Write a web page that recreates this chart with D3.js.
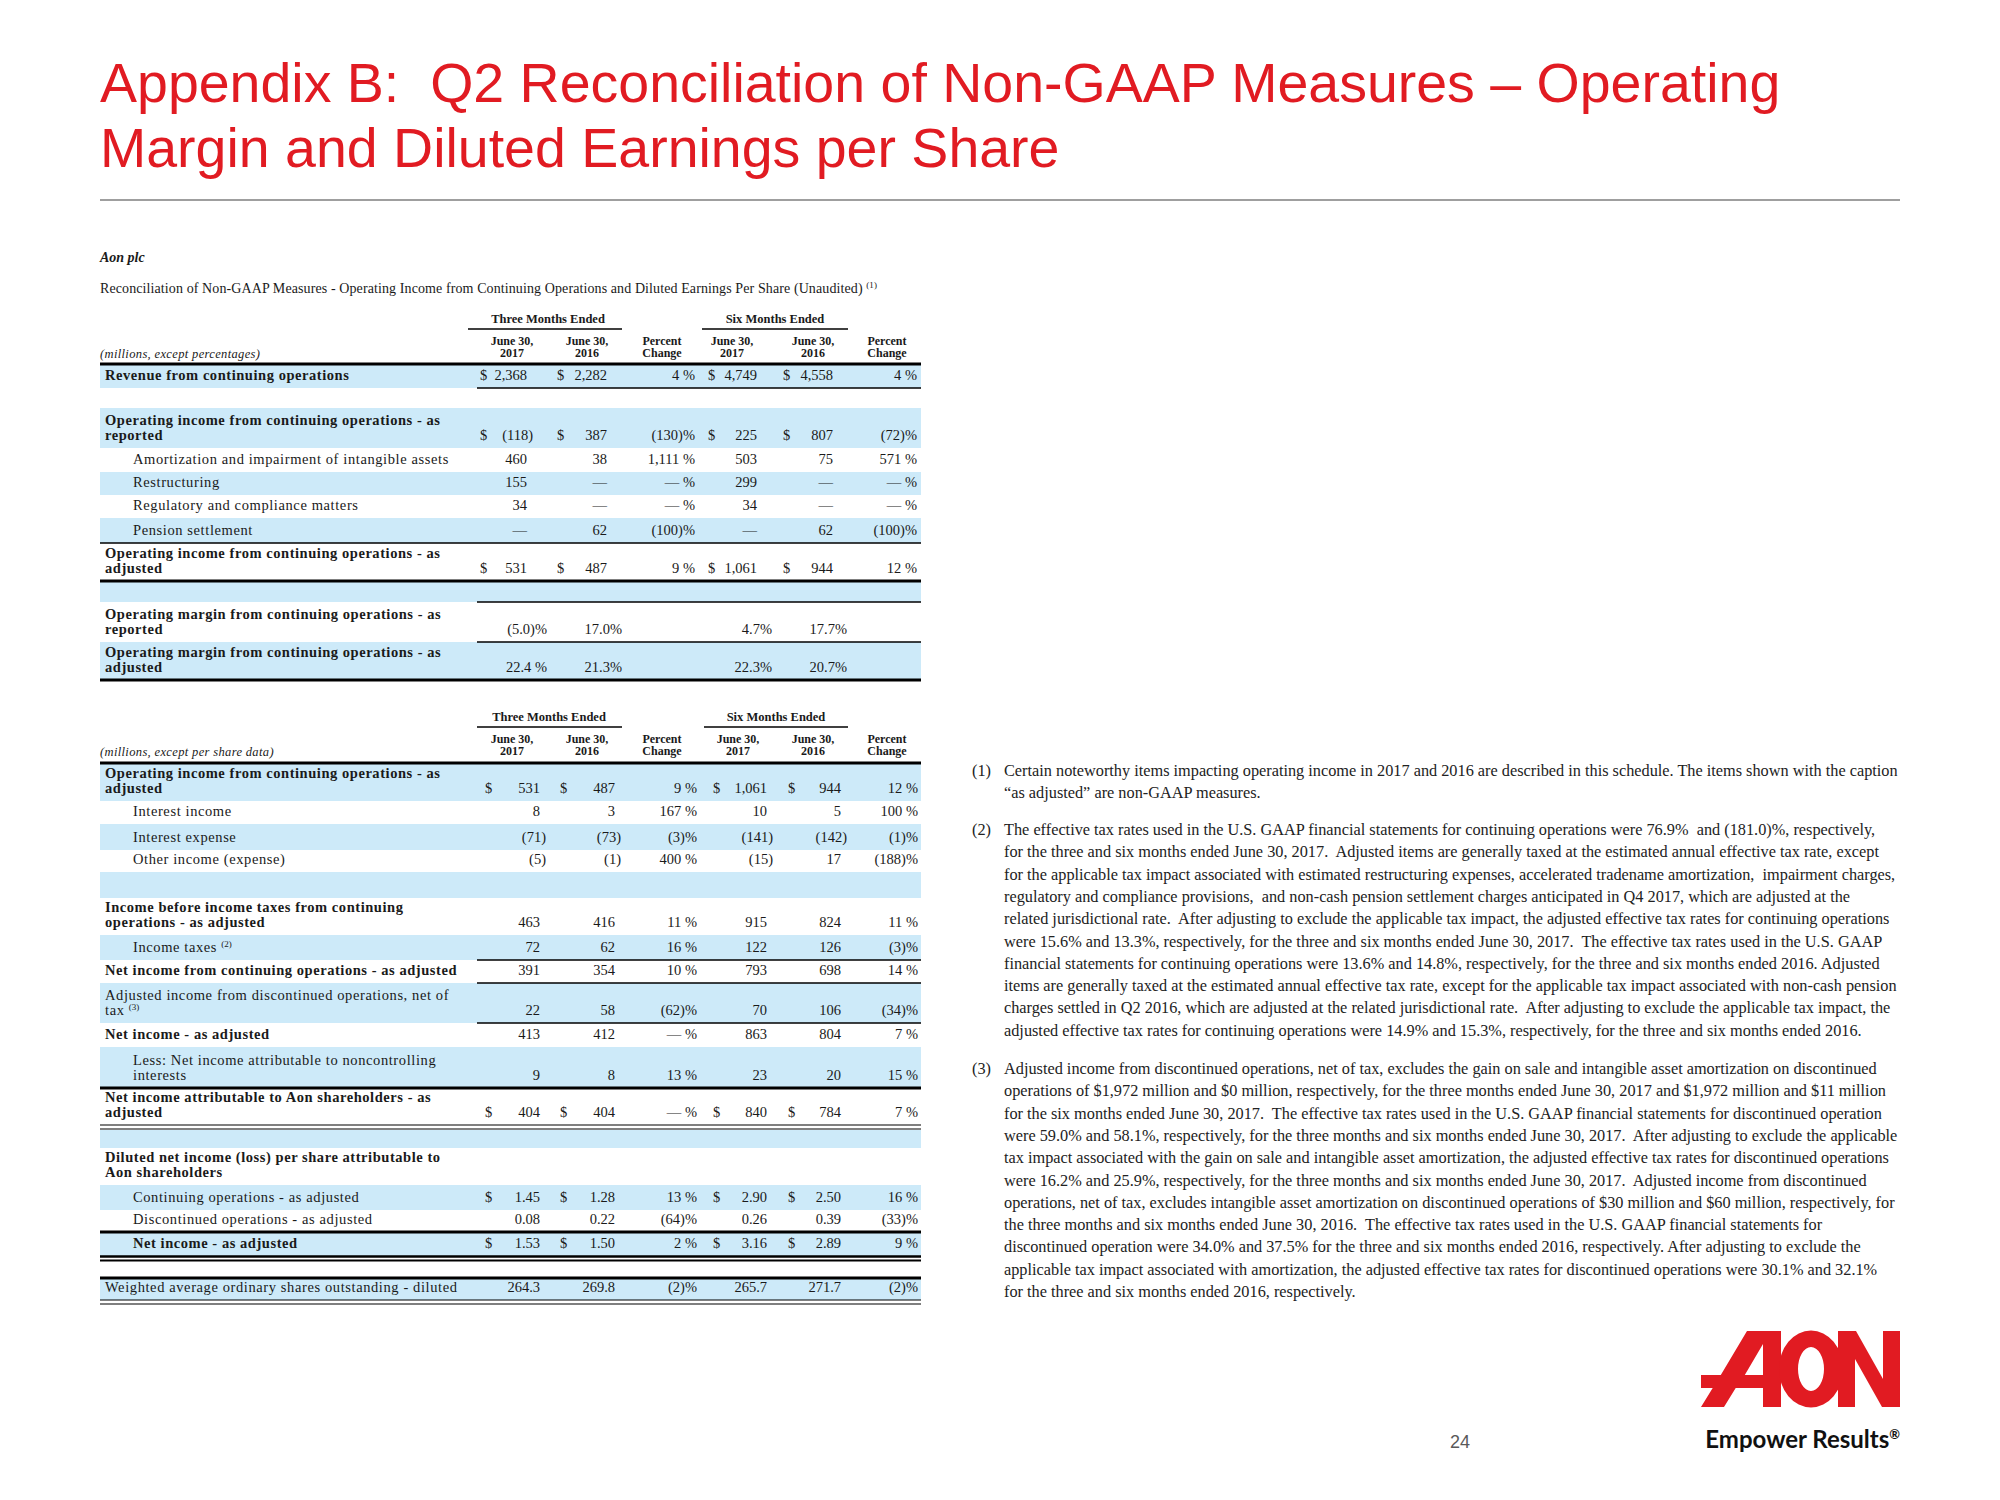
<!DOCTYPE html>
<html>
<head>
<meta charset="utf-8">
<script src="https://cdn.jsdelivr.net/npm/d3@7"></script>
<style>
  body { margin: 0; background: #fff; }
  text { white-space: pre; }
</style>
</head>
<body>
<div id="slide"></div>
<script>
// ---- data ----
var colKeys = ["q17", "q16", "qPct", "h17", "h16", "hPct"];
var groupHeaders = ["Three Months Ended", "Six Months Ended"];
var colHeaders = [["June 30,", "2017"], ["June 30,", "2016"], ["Percent", "Change"],
                  ["June 30,", "2017"], ["June 30,", "2016"], ["Percent", "Change"]];

// table 1: operating income / margin
var t1Labels = [
  "Revenue from continuing operations",
  null,
  "Operating income from continuing operations - as\nreported",
  "Amortization and impairment of intangible assets",
  "Restructuring",
  "Regulatory and compliance matters",
  "Pension settlement",
  "Operating income from continuing operations - as\nadjusted",
  null,
  "Operating margin from continuing operations - as\nreported",
  "Operating margin from continuing operations - as\nadjusted"
];
var t1Q17  = [2368, null, -118, 460, 155, 34, 0, 531, null, -5.0, 22.4];
var t1Q16  = [2282, null, 387, 38, 0, 0, 62, 487, null, 17.0, 21.3];
var t1QPct = [4, null, -130, 1111, 0, 0, -100, 9, null, null, null];
var t1H17  = [4749, null, 225, 503, 299, 34, 0, 1061, null, 4.7, 22.3];
var t1H16  = [4558, null, 807, 75, 0, 0, 62, 944, null, 17.7, 20.7];
var t1HPct = [4, null, -72, 571, 0, 0, -100, 12, null, null, null];

// table 2: diluted earnings per share
var t2Labels = [
  "Operating income from continuing operations - as\nadjusted",
  "Interest income",
  "Interest expense",
  "Other income (expense)",
  null,
  "Income before income taxes from continuing\noperations - as adjusted",
  "Income taxes ^(2)",
  "Net income from continuing operations - as adjusted",
  "Adjusted income from discontinued operations, net of\ntax ^(3)",
  "Net income - as adjusted",
  "Less: Net income attributable to noncontrolling\ninterests",
  "Net income attributable to Aon shareholders - as\nadjusted",
  null,
  "Diluted net income (loss) per share attributable to\nAon shareholders",
  "Continuing operations - as adjusted",
  "Discontinued operations - as adjusted",
  "Net income - as adjusted",
  null,
  "Weighted average ordinary shares outstanding - diluted"
];
var t2Q17  = [531, 8, -71, -5, null, 463, 72, 391, 22, 413, 9, 404, null, null, 1.45, 0.08, 1.53, null, 264.3];
var t2Q16  = [487, 3, -73, -1, null, 416, 62, 354, 58, 412, 8, 404, null, null, 1.28, 0.22, 1.50, null, 269.8];
var t2QPct = [9, 167, -3, 400, null, 11, 16, 10, -62, 0, 13, 0, null, null, 13, -64, 2, null, -2];
var t2H17  = [1061, 10, -141, -15, null, 915, 122, 793, 70, 863, 23, 840, null, null, 2.90, 0.26, 3.16, null, 265.7];
var t2H16  = [944, 5, -142, 17, null, 824, 126, 698, 106, 804, 20, 784, null, null, 2.50, 0.39, 2.89, null, 271.7];
var t2HPct = [12, 100, -1, -188, null, 11, -3, 14, -34, 7, 15, 7, null, null, 16, -33, 9, null, -2];

var footnotes = [
  ["Certain noteworthy items impacting operating income in 2017 and 2016 are described in this schedule. The items shown with the caption",
   "\u201cas adjusted\u201d are non-GAAP measures."],
  ["The effective tax rates used in the U.S. GAAP financial statements for continuing operations were 76.9%  and (181.0)%, respectively,",
   "for the three and six months ended June 30, 2017.  Adjusted items are generally taxed at the estimated annual effective tax rate, except",
   "for the applicable tax impact associated with estimated restructuring expenses, accelerated tradename amortization,  impairment charges,",
   "regulatory and compliance provisions,  and non-cash pension settlement charges anticipated in Q4 2017, which are adjusted at the",
   "related jurisdictional rate.  After adjusting to exclude the applicable tax impact, the adjusted effective tax rates for continuing operations",
   "were 15.6% and 13.3%, respectively, for the three and six months ended June 30, 2017.  The effective tax rates used in the U.S. GAAP",
   "financial statements for continuing operations were 13.6% and 14.8%, respectively, for the three and six months ended 2016. Adjusted",
   "items are generally taxed at the estimated annual effective tax rate, except for the applicable tax impact associated with non-cash pension",
   "charges settled in Q2 2016, which are adjusted at the related jurisdictional rate.  After adjusting to exclude the applicable tax impact, the",
   "adjusted effective tax rates for continuing operations were 14.9% and 15.3%, respectively, for the three and six months ended 2016."],
  ["Adjusted income from discontinued operations, net of tax, excludes the gain on sale and intangible asset amortization on discontinued",
   "operations of $1,972 million and $0 million, respectively, for the three months ended June 30, 2017 and $1,972 million and $11 million",
   "for the six months ended June 30, 2017.  The effective tax rates used in the U.S. GAAP financial statements for discontinued operation",
   "were 59.0% and 58.1%, respectively, for the three months and six months ended June 30, 2017.  After adjusting to exclude the applicable",
   "tax impact associated with the gain on sale and intangible asset amortization, the adjusted effective tax rates for discontinued operations",
   "were 16.2% and 25.9%, respectively, for the three months and six months ended June 30, 2017.  Adjusted income from discontinued",
   "operations, net of tax, excludes intangible asset amortization on discontinued operations of $30 million and $60 million, respectively, for",
   "the three months and six months ended June 30, 2016.  The effective tax rates used in the U.S. GAAP financial statements for",
   "discontinued operation were 34.0% and 37.5% for the three and six months ended 2016, respectively. After adjusting to exclude the",
   "applicable tax impact associated with amortization, the adjusted effective tax rates for discontinued operations were 30.1% and 32.1%",
   "for the three and six months ended 2016, respectively."]
];

// ---- layout (row heights and styles) ----
var t1Layout = [
  {h: 24, band: 1, bold: 1, dollar: 1, rule: "val"},
  {h: 20},
  {h: 40, band: 1, bold: 1, dollar: 1},
  {h: 24, indent: 1},
  {h: 23, band: 1, indent: 1},
  {h: 23, indent: 1},
  {h: 25, band: 1, indent: 1, rule: "full"},
  {h: 38, bold: 1, dollar: 1, rule: "thick"},
  {h: 21, band: 1, rule: "val"},
  {h: 40, bold: 1, kind: "margin", rule: "val"},
  {h: 38, band: 1, bold: 1, kind: "margin", rule: "thick"}
];
var t2Layout = [
  {h: 38, band: 1, bold: 1, dollar: 1},
  {h: 23, indent: 1},
  {h: 26, band: 1, indent: 1},
  {h: 22, indent: 1},
  {h: 26, band: 1},
  {h: 37, bold: 1},
  {h: 25, band: 1, indent: 1, rule: "val"},
  {h: 23, bold: 1, rule: "val"},
  {h: 40, band: 1, rule: "val"},
  {h: 24, bold: 1},
  {h: 41, band: 1, indent: 1, rule: "thick"},
  {h: 37, bold: 1, dollar: 1, rule: "double"},
  {h: 23, band: 1, inset: 5},
  {h: 37, bold: 1},
  {h: 25, band: 1, indent: 1, dollar: 1, dec: 2},
  {h: 22, indent: 1, dec: 2, rule: "thick"},
  {h: 24, band: 1, bold: 1, indent: 1, dollar: 1, dec: 2, rule: "doubleThick"},
  {h: 22, rule: "thick"},
  {h: 22, band: 1, dec: 1, rule: "double"}
];

var W = 2000, H = 1500;
var RED = "#e11b22", BAND = "#cdeaf9", INK = "#1a1a1a";
var SERIF = "'Liberation Serif', 'Times New Roman', serif";
var SANS = "'Liberation Sans', Arial, sans-serif";
var TL = 100, TR = 921, VL = 477;

var svg = d3.select("#slide").append("svg")
    .attr("width", W).attr("height", H)
    .style("font-family", SERIF);

// ---- title ----
svg.append("text").attr("x", 100).attr("y", 102)
    .attr("font-family", SANS).attr("font-size", 55.5).attr("fill", RED)
    .text("Appendix B:  Q2 Reconciliation of Non-GAAP Measures \u2013 Operating");
svg.append("text").attr("x", 100).attr("y", 167)
    .attr("font-family", SANS).attr("font-size", 55.5).attr("fill", RED)
    .text("Margin and Diluted Earnings per Share");
svg.append("line").attr("x1", 100).attr("x2", 1900).attr("y1", 200).attr("y2", 200)
    .attr("stroke", "#7f7f7f").attr("stroke-width", 1.5);

svg.append("text").attr("x", 100).attr("y", 262)
    .attr("font-size", 14).attr("font-weight", "bold").attr("font-style", "italic").attr("fill", INK)
    .text("Aon plc");
var rt = svg.append("text").attr("x", 100).attr("y", 293)
    .attr("font-size", 14).attr("letter-spacing", 0.1).attr("fill", INK)
    .text("Reconciliation of Non-GAAP Measures - Operating Income from Continuing Operations and Diluted Earnings Per Share (Unaudited) ");
rt.append("tspan").attr("font-size", 9).attr("dy", -5).text("(1)");

// ---- formatting ----
function fmtCell(v, col, row) {
  if (v === null || v === undefined) return null;
  var isPct = col === "qPct" || col === "hPct";
  if (row.kind === "margin") {
    var m = d3.format(".1f")(Math.abs(v));
    if (v < 0) return "(" + m + ")%";
    return col === "q17" ? m + " %" : m + "%";
  }
  if (isPct) {
    if (v === 0) return "\u2014 %";
    var p = d3.format(",")(Math.abs(v));
    return v < 0 ? "(" + p + ")%" : p + " %";
  }
  if (v === 0) return "\u2014";
  var a = d3.format(",." + (row.dec || 0) + "f")(Math.abs(v));
  return v < 0 ? "(" + a + ")" : a;
}

function addLabel(sel, str) {
  var parts = str.split("^");
  sel.text(parts[0]);
  if (parts[1]) sel.append("tspan").attr("font-size", 9).attr("dy", -5).attr("letter-spacing", 0).text(parts[1]);
}

function drawTable(cfg) {
  var g = svg.append("g");
  var x = d3.scaleOrdinal().domain(colKeys).range(cfg.right);
  var xc = d3.scaleOrdinal().domain(colKeys).range(cfg.center);
  var xd = d3.scaleOrdinal().domain(colKeys).range(cfg.dollar);
  var xm = d3.scaleOrdinal().domain(colKeys).range(cfg.margin || cfg.right);

  var tops = [], acc = cfg.top;
  cfg.layout.forEach(function(r) { tops.push(acc); acc += r.h; });
  var rowY = d3.scaleOrdinal().domain(d3.range(cfg.layout.length)).range(tops);
  var rows = cfg.layout.map(function(r, i) { return {r: r, i: i, top: rowY(i), base: rowY(i) + r.h - 8}; });

  // bands
  g.selectAll("rect.band").data(rows.filter(function(d) { return d.r.band; }))
    .enter().append("rect").attr("class", "band")
    .attr("x", TL).attr("width", TR - TL)
    .attr("y", function(d) { return d.top + (d.r.inset || 0); })
    .attr("height", function(d) { return d.r.h - (d.r.inset || 0); })
    .attr("fill", BAND);

  // group headers
  cfg.groups.forEach(function(gr, i) {
    g.append("text").attr("x", gr.c).attr("y", cfg.hy)
      .attr("text-anchor", "middle").attr("font-size", 12.5).attr("font-weight", "bold").attr("fill", INK)
      .text(groupHeaders[i]);
    g.append("line").attr("x1", gr.l).attr("x2", gr.r).attr("y1", cfg.hy + 6).attr("y2", cfg.hy + 6)
      .attr("stroke", "#000").attr("stroke-width", 1.6);
  });
  colKeys.forEach(function(k, i) {
    colHeaders[i].forEach(function(line, j) {
      g.append("text").attr("x", xc(k)).attr("y", cfg.hy + 22 + j * 12)
        .attr("text-anchor", "middle").attr("font-size", 12).attr("font-weight", "bold").attr("fill", INK)
        .text(line);
    });
  });
  g.append("text").attr("x", TL).attr("y", cfg.hy + 35)
    .attr("font-size", 12.5).attr("letter-spacing", 0.35).attr("font-style", "italic").attr("fill", INK)
    .text(cfg.units);
  g.append("line").attr("x1", TL).attr("x2", TR).attr("y1", cfg.top).attr("y2", cfg.top)
    .attr("stroke", "#000").attr("stroke-width", 3);

  // labels
  rows.forEach(function(d) {
    var lab = cfg.labels[d.i];
    if (!lab) return;
    var lines = lab.split("\n");
    lines.forEach(function(line, j) {
      var t = g.append("text")
        .attr("x", d.r.indent ? 133 : 105)
        .attr("y", d.base - 15 * (lines.length - 1 - j))
        .attr("font-size", 14.5)
        .attr("letter-spacing", d.r.bold ? 0.55 : 0.6)
        .attr("font-weight", d.r.bold ? "bold" : "normal")
        .attr("fill", INK);
      addLabel(t, line);
    });
  });

  // values
  rows.forEach(function(d) {
    colKeys.forEach(function(k) {
      var s = fmtCell(cfg.values[k][d.i], k, d.r);
      if (s === null) return;
      var isPct = k === "qPct" || k === "hPct";
      var px = d.r.kind === "margin" ? xm(k) : x(k) + (!isPct && /\)$/.test(s) ? 6 : 0);
      g.append("text").attr("x", px).attr("y", d.base)
        .attr("text-anchor", "end").attr("font-size", 14.5).attr("fill", INK).text(s);
      if (d.r.dollar && !isPct) {
        g.append("text").attr("x", xd(k)).attr("y", d.base)
          .attr("font-size", 14.5).attr("fill", INK).text("$");
      }
    });
  });

  // rules
  rows.forEach(function(d) {
    var b = d.top + d.r.h;
    function rule(x1, y, w) {
      g.append("line").attr("x1", x1).attr("x2", TR).attr("y1", y).attr("y2", y)
        .attr("stroke", "#000").attr("stroke-width", w);
    }
    if (d.r.rule === "val") rule(VL, b, 1.3);
    if (d.r.rule === "full") rule(TL, b, 1.3);
    if (d.r.rule === "thick") rule(TL, b, 3);
    if (d.r.rule === "double") { rule(TL, b, 1.2); rule(TL, b + 4, 1.2); }
    if (d.r.rule === "doubleThick") { rule(TL, b + 0.5, 2.5); rule(TL, b + 4.5, 2); }
  });
}

drawTable({
  top: 364, hy: 323, units: "(millions, except percentages)",
  labels: t1Labels,
  values: {q17: t1Q17, q16: t1Q16, qPct: t1QPct, h17: t1H17, h16: t1H16, hPct: t1HPct},
  layout: t1Layout,
  right: [527, 607, 695, 757, 833, 917],
  center: [512, 587, 662, 732, 813, 887],
  dollar: [480, 557, 0, 708, 783, 0],
  margin: [547, 622, 0, 772, 847, 0],
  groups: [{c: 548, l: 468, r: 622}, {c: 775, l: 702, r: 848}]
});

drawTable({
  top: 763, hy: 721, units: "(millions, except per share data)",
  labels: t2Labels,
  values: {q17: t2Q17, q16: t2Q16, qPct: t2QPct, h17: t2H17, h16: t2H16, hPct: t2HPct},
  layout: t2Layout,
  right: [540, 615, 697, 767, 841, 918],
  center: [512, 587, 662, 738, 813, 887],
  dollar: [485, 560, 0, 713, 788, 0],
  groups: [{c: 549, l: 477, r: 622}, {c: 776, l: 704, r: 848}]
});

// ---- footnotes ----
var noteTop = [776, 835, 1074], LH = 22.3;
var notes = svg.append("g").attr("font-size", 16.3).attr("fill", "#222");
footnotes.forEach(function(lines, n) {
  notes.append("text").attr("x", 972).attr("y", noteTop[n]).text("(" + (n + 1) + ")");
  lines.forEach(function(line, j) {
    notes.append("text").attr("x", 1004).attr("y", noteTop[n] + j * LH).text(line);
  });
});

// ---- footer ----
svg.append("text").attr("x", 1450).attr("y", 1448)
    .attr("font-family", SANS).attr("font-size", 18).attr("fill", "#595959").text("24");

var logo = svg.append("g").attr("fill", RED);
logo.append("path").attr("fill-rule", "evenodd")
    .attr("d", "M1747,1331 L1781,1331 L1781,1407 L1763,1407 L1763,1388 L1735.7,1388 L1724,1407 L1701,1407 " +
               "L1712.7,1388 L1701,1388 L1701,1375 L1720.8,1375 Z M1763,1344 L1763,1375 L1744.8,1375 Z");
logo.append("path").attr("fill-rule", "evenodd")
    .attr("d", "M1779,1369 a32,38.5 0 1,0 64,0 a32,38.5 0 1,0 -64,0 Z M1798,1369 a13,22 0 1,0 26,0 a13,22 0 1,0 -26,0 Z");
logo.append("path")
    .attr("d", "M1838,1331 L1856,1331 L1883,1379 L1883,1331 L1900,1331 L1900,1407 L1882,1407 L1855,1359 L1855,1407 L1838,1407 Z");
var er = svg.append("text").attr("x", 1900).attr("y", 1448).attr("text-anchor", "end")
    .attr("font-family", "Lato, 'Open Sans', sans-serif").attr("font-weight", "bold")
    .attr("font-size", 24).attr("fill", "#111").text("Empower Results");
er.append("tspan").attr("font-size", 13).attr("dy", -9).text("\u00ae");
</script>
</body>
</html>
